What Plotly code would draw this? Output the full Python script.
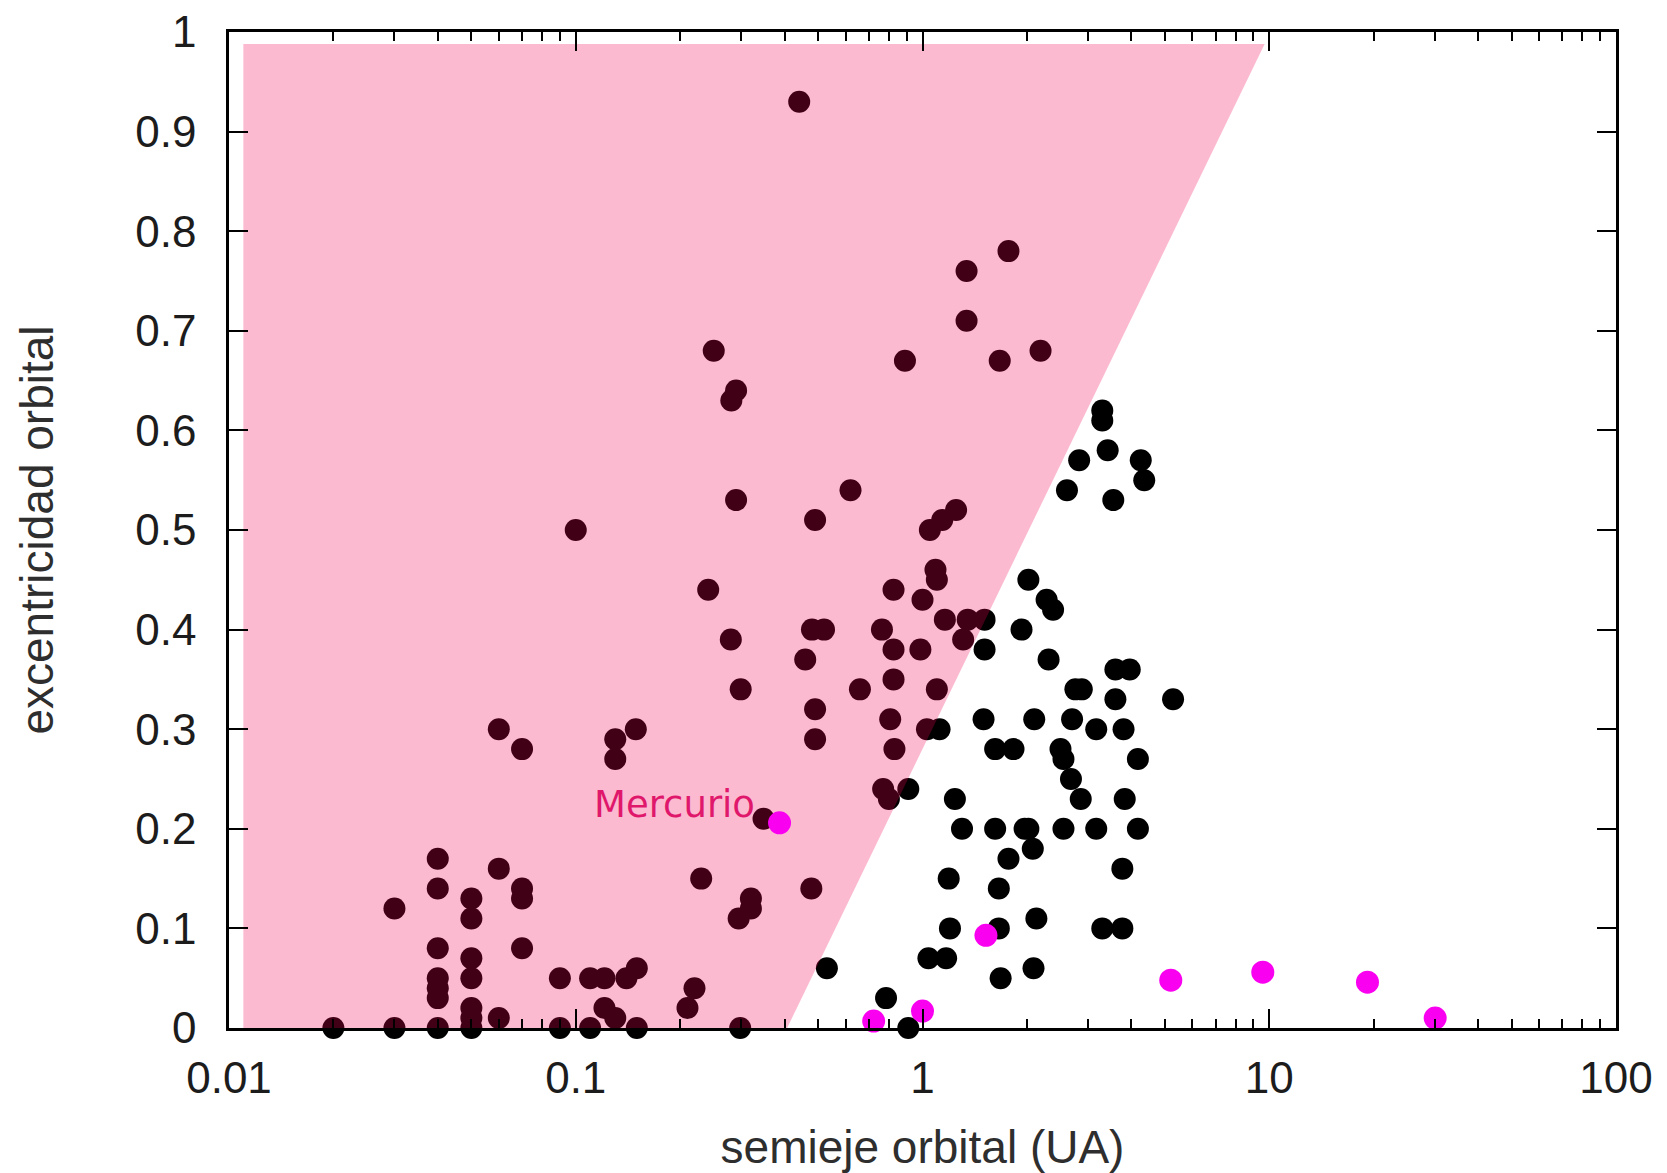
import math
import plotly.graph_objects as go

# Exoplanets: semi-major axis (AU) and orbital eccentricity
exo_a = [
    0.441, 0.250, 0.290, 0.281, 0.29, 0.10, 0.241, 0.28, 0.299, 0.060,
    0.070, 0.130, 0.130, 0.149, 0.348, 0.040, 0.040, 0.030, 0.050, 0.050,
    0.060, 0.070, 0.070, 0.040, 0.070, 0.040, 0.040, 0.040, 0.050, 0.050,
    0.050, 0.050, 0.060, 0.090, 0.110, 0.121, 0.121, 0.130, 0.140, 0.150,
    0.230, 0.320, 0.320, 0.295, 0.220, 0.210,
    0.020, 0.030, 0.040, 0.050, 0.090, 0.110, 0.150, 0.298,
    0.478, 0.459, 0.48, 0.52, 0.49, 0.49, 0.49, 0.62, 0.66, 0.764,
    0.825, 0.825, 0.825, 0.807, 0.83, 0.77, 0.80, 0.89, 0.986, 1.0,
    1.05, 1.14, 1.25, 1.09, 1.10, 1.10, 1.03, 1.16, 1.35, 1.31,
    1.34, 1.34, 1.67, 1.77, 2.19,
    0.91, 1.12, 1.51, 1.51, 1.93, 2.02, 2.28, 2.38, 2.31, 2.61,
    2.83, 3.3, 3.3, 3.42, 4.26, 4.36, 3.55, 5.28, 3.6, 3.96,
    2.76, 2.88, 3.6, 1.5, 2.1, 2.7, 3.17, 3.8, 1.62, 1.83,
    2.5, 2.55, 4.18, 2.68, 1.24, 2.86, 3.83, 1.30, 1.62, 1.97,
    2.02, 2.55, 3.17, 4.18, 2.08, 1.77, 3.77, 1.19, 1.66, 2.13,
    1.20, 1.66, 3.3, 3.77, 1.04, 1.17, 0.53, 2.09, 1.68, 0.785,
    0.91,
]
exo_e = [
    0.93, 0.68, 0.64, 0.63, 0.53, 0.50, 0.44, 0.39, 0.34, 0.30,
    0.28, 0.29, 0.27, 0.30, 0.21, 0.17, 0.14, 0.12, 0.13, 0.11,
    0.16, 0.14, 0.13, 0.08, 0.08, 0.05, 0.04, 0.03, 0.07, 0.05,
    0.02, 0.01, 0.01, 0.05, 0.05, 0.05, 0.02, 0.01, 0.05, 0.06,
    0.15, 0.13, 0.12, 0.11, 0.04, 0.02,
    0.0, 0.0, 0.0, 0.0, 0.0, 0.0, 0.0, 0.0,
    0.14, 0.37, 0.40, 0.40, 0.51, 0.32, 0.29, 0.54, 0.34, 0.40,
    0.44, 0.38, 0.35, 0.31, 0.28, 0.24, 0.23, 0.67, 0.38, 0.43,
    0.50, 0.51, 0.52, 0.46, 0.45, 0.34, 0.30, 0.41, 0.41, 0.39,
    0.76, 0.71, 0.67, 0.78, 0.68,
    0.24, 0.30, 0.41, 0.38, 0.40, 0.45, 0.43, 0.42, 0.37, 0.54,
    0.57, 0.62, 0.61, 0.58, 0.57, 0.55, 0.53, 0.33, 0.36, 0.36,
    0.34, 0.34, 0.33, 0.31, 0.31, 0.31, 0.30, 0.30, 0.28, 0.28,
    0.28, 0.27, 0.27, 0.25, 0.23, 0.23, 0.23, 0.20, 0.20, 0.20,
    0.20, 0.20, 0.20, 0.20, 0.18, 0.17, 0.16, 0.15, 0.14, 0.11,
    0.10, 0.10, 0.10, 0.10, 0.07, 0.07, 0.06, 0.06, 0.05, 0.03,
    0.0,
]

# Solar System planets
planet_names = ["Mercurio", "Venus", "Tierra", "Marte",
                "Júpiter", "Saturno", "Urano", "Neptuno"]
planet_a = [0.387, 0.723, 1.0, 1.524, 5.20, 9.58, 19.2, 30.1]
planet_e = [0.206, 0.007, 0.017, 0.093, 0.048, 0.056, 0.046, 0.010]

# Shaded zone (vertices in axis data units)
region_a = [0.011, 0.011, 9.7, 0.407, 0.011]
region_e = [0.0, 0.988, 0.988, 0.0, 0.0]

# Axis ticks
x_tickvals = [0.01, 0.1, 1, 10, 100]
x_ticktext = ["0.01", "0.1", "1", "10", "100"]
y_tickvals = [round(0.1 * i, 1) for i in range(11)]
y_ticktext = ["0"] + [f"{v:g}" for v in y_tickvals[1:-1]] + ["1"]
x_minor = [m * 10 ** p for p in range(-2, 2) for m in range(2, 10)]

label_font = dict(family="Arial, Liberation Sans, sans-serif", size=44, color="#1c1c1c")
title_font = dict(family="Arial, Liberation Sans, sans-serif", size=46, color="#2e2e2e")

fig = go.Figure()

fig.add_trace(go.Scatter(
    x=exo_a, y=exo_e, mode="markers",
    marker=dict(size=22, color="#000000", line=dict(width=0)),
    cliponaxis=False, name="exoplanetas",
))

# translucent crimson veil laid over the dots inside the zone
fig.add_trace(go.Scatter(
    x=region_a, y=region_e, mode="none", fill="toself",
    fillcolor="rgba(245,0,85,0.27)", hoverinfo="skip", name="zona",
))

fig.add_trace(go.Scatter(
    x=planet_a, y=planet_e, mode="markers", text=planet_names,
    marker=dict(size=23, color="rgb(250,0,240)", line=dict(width=0)),
    cliponaxis=False, name="Sistema Solar",
))

fig.add_annotation(
    x=math.log10(0.334), y=0.224, xref="x", yref="y",
    text="Mercurio", showarrow=False, xanchor="right", yanchor="middle",
    font=dict(family="DejaVu Sans, Verdana, sans-serif", size=37, color="#E0186C"),
)

fig.update_xaxes(
    type="log", range=[-2, 2],
    tickmode="array", tickvals=x_tickvals, ticktext=x_ticktext,
    ticks="inside", ticklen=19, tickwidth=2, tickcolor="black",
    minor=dict(tickmode="array", tickvals=x_minor, ticks="inside",
               ticklen=9, tickwidth=2, tickcolor="black", showgrid=False),
    showline=True, linecolor="black", linewidth=2.5, mirror="ticks",
    showgrid=False, zeroline=False, automargin=False,
    tickfont=label_font, ticklabelstandoff=9,
    title=dict(text="semieje orbital (UA)", font=title_font, standoff=35),
)
fig.update_yaxes(
    range=[0, 1],
    tickmode="array", tickvals=y_tickvals, ticktext=y_ticktext,
    ticks="inside", ticklen=19, tickwidth=2, tickcolor="black",
    showline=True, linecolor="black", linewidth=2.5, mirror="ticks",
    showgrid=False, zeroline=False, automargin=False,
    tickfont=label_font, ticklabelstandoff=21,
    title=dict(text="excentricidad orbital", font=title_font, standoff=68),
)

fig.update_layout(
    width=1667, height=1173,
    margin=dict(l=229, r=51, t=32, b=145),
    paper_bgcolor="white", plot_bgcolor="white",
    showlegend=False,
)

fig.write_html("out.html")
